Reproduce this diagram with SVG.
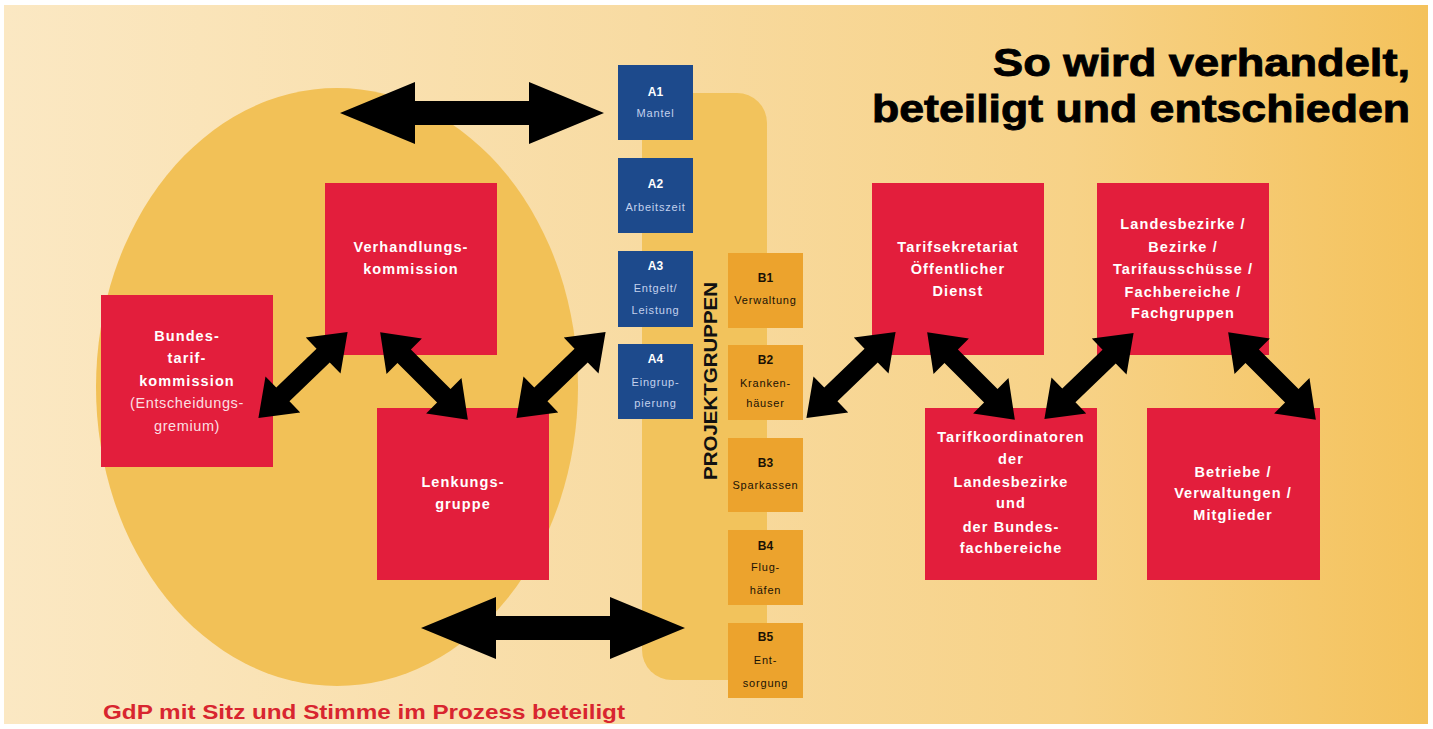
<svg xmlns="http://www.w3.org/2000/svg" width="1433" height="729" viewBox="0 0 1433 729">
<defs>
<linearGradient id="bg" x1="0" y1="0" x2="1" y2="0">
<stop offset="0" stop-color="#fbe8c3"/>
<stop offset="0.45" stop-color="#f8dba2"/>
<stop offset="0.75" stop-color="#f7d287"/>
<stop offset="1" stop-color="#f4c25c"/>
</linearGradient>
<path id="harrow" d="M -132 0 L -57 -31 L -57 -12 L 57 -12 L 57 -31 L 132 0 L 57 31 L 57 12 L -57 12 L -57 31 Z"/>
<path id="darrow" d="M -62 0 L -28 -25 L -28 -9.5 L 28 -9.5 L 28 -25 L 62 0 L 28 25 L 28 9.5 L -28 9.5 L -28 25 Z"/>
<style>
.red{fill:#e31e3c}
.blue{fill:#1d4a8c}
.org{fill:#eca32d}
.rt{font-family:"Liberation Sans",Arial,sans-serif;font-weight:bold;font-size:14.5px;letter-spacing:1.1px;fill:#ffffff;text-anchor:middle}
.rtl{font-family:"Liberation Sans",Arial,sans-serif;font-weight:normal;font-size:14.5px;letter-spacing:0.6px;fill:#fbdfe2;text-anchor:middle}
.al{font-family:"Liberation Sans",Arial,sans-serif;font-weight:bold;font-size:12px;fill:#ffffff;text-anchor:middle}
.at{font-family:"Liberation Sans",Arial,sans-serif;font-size:11px;letter-spacing:0.8px;fill:#c3d1ec;text-anchor:middle}
.bl{font-family:"Liberation Sans",Arial,sans-serif;font-weight:bold;font-size:12px;fill:#1a1205;text-anchor:middle}
.bt{font-family:"Liberation Sans",Arial,sans-serif;font-size:11px;letter-spacing:0.8px;fill:#1a1205;text-anchor:middle}
.title{font-family:"Liberation Sans",Arial,sans-serif;font-weight:bold;font-size:39px;fill:#000000;stroke:#000000;stroke-width:0.9px;text-anchor:end}
</style>
</defs>
<rect x="0" y="0" width="1433" height="729" fill="#ffffff"/>
<rect x="4" y="5" width="1424" height="719" fill="url(#bg)"/>
<ellipse cx="337" cy="387" rx="241" ry="299" fill="#f2c157"/>
<rect x="642" y="93" width="125" height="587" rx="30" fill="#f2c35c"/>

<g id="title">
<text class="title" x="1410" y="76" textLength="417" lengthAdjust="spacingAndGlyphs">So wird verhandelt,</text>
<text class="title" x="1410" y="122" textLength="538" lengthAdjust="spacingAndGlyphs">beteiligt und entschieden</text>
</g>

<g id="projektgruppen-label">
<text x="0" y="0" transform="translate(717,381) rotate(-90)" font-family="Liberation Sans, Arial, sans-serif" font-weight="bold" font-size="19" fill="#111111" text-anchor="middle" textLength="198" lengthAdjust="spacingAndGlyphs">PROJEKTGRUPPEN</text>
</g>

<g id="bundestarifkommission">
<rect class="red" x="101" y="295" width="172" height="172"/>
<text class="rt" x="187" y="341">Bundes-</text>
<text class="rt" x="187" y="363">tarif-</text>
<text class="rt" x="187" y="386">kommission</text>
<text class="rtl" x="187" y="408">(Entscheidungs-</text>
<text class="rtl" x="187" y="431">gremium)</text>
</g>
<g id="verhandlungskommission">
<rect class="red" x="325" y="183" width="172" height="172"/>
<text class="rt" x="411" y="252">Verhandlungs-</text>
<text class="rt" x="411" y="274">kommission</text>
</g>
<g id="lenkungsgruppe">
<rect class="red" x="377" y="408" width="172" height="172"/>
<text class="rt" x="463" y="487">Lenkungs-</text>
<text class="rt" x="463" y="509">gruppe</text>
</g>
<g id="tarifsekretariat">
<rect class="red" x="872" y="183" width="172" height="172"/>
<text class="rt" x="958" y="252">Tarifsekretariat</text>
<text class="rt" x="958" y="274">Öffentlicher</text>
<text class="rt" x="958" y="296">Dienst</text>
</g>
<g id="landesbezirke">
<rect class="red" x="1097" y="183" width="172" height="172"/>
<text class="rt" x="1183" y="229">Landesbezirke /</text>
<text class="rt" x="1183" y="252">Bezirke /</text>
<text class="rt" x="1183" y="274">Tarifausschüsse /</text>
<text class="rt" x="1183" y="297">Fachbereiche /</text>
<text class="rt" x="1183" y="318">Fachgruppen</text>
</g>
<g id="tarifkoordinatoren">
<rect class="red" x="925" y="408" width="172" height="172"/>
<text class="rt" x="1011" y="442">Tarifkoordinatoren</text>
<text class="rt" x="1011" y="464">der</text>
<text class="rt" x="1011" y="487">Landesbezirke</text>
<text class="rt" x="1011" y="508">und</text>
<text class="rt" x="1011" y="532">der Bundes-</text>
<text class="rt" x="1011" y="553">fachbereiche</text>
</g>
<g id="betriebe">
<rect class="red" x="1147" y="408" width="173" height="172"/>
<text class="rt" x="1233" y="477">Betriebe /</text>
<text class="rt" x="1233" y="498">Verwaltungen /</text>
<text class="rt" x="1233" y="520">Mitglieder</text>
</g>

<g id="a1">
<rect class="blue" x="618" y="65" width="75" height="75"/>
<text class="al" x="655.5" y="96">A1</text>
<text class="at" x="655.5" y="117">Mantel</text>
</g>
<g id="a2">
<rect class="blue" x="618" y="158" width="75" height="75"/>
<text class="al" x="655.5" y="188">A2</text>
<text class="at" x="655.5" y="211">Arbeitszeit</text>
</g>
<g id="a3">
<rect class="blue" x="618" y="251" width="75" height="76"/>
<text class="al" x="655.5" y="270">A3</text>
<text class="at" x="655.5" y="292">Entgelt/</text>
<text class="at" x="655.5" y="314">Leistung</text>
</g>
<g id="a4">
<rect class="blue" x="618" y="344" width="75" height="75"/>
<text class="al" x="655.5" y="363">A4</text>
<text class="at" x="655.5" y="386">Eingrup-</text>
<text class="at" x="655.5" y="407">pierung</text>
</g>

<g id="b1">
<rect class="org" x="728" y="253" width="75" height="75"/>
<text class="bl" x="765.5" y="282">B1</text>
<text class="bt" x="765.5" y="304">Verwaltung</text>
</g>
<g id="b2">
<rect class="org" x="728" y="345" width="75" height="75"/>
<text class="bl" x="765.5" y="364">B2</text>
<text class="bt" x="765.5" y="387">Kranken-</text>
<text class="bt" x="765.5" y="407">häuser</text>
</g>
<g id="b3">
<rect class="org" x="728" y="438" width="75" height="74"/>
<text class="bl" x="765.5" y="467">B3</text>
<text class="bt" x="765.5" y="489">Sparkassen</text>
</g>
<g id="b4">
<rect class="org" x="728" y="530" width="75" height="75"/>
<text class="bl" x="765.5" y="550">B4</text>
<text class="bt" x="765.5" y="571">Flug-</text>
<text class="bt" x="765.5" y="594">häfen</text>
</g>
<g id="b5">
<rect class="org" x="728" y="623" width="75" height="75"/>
<text class="bl" x="765.5" y="641">B5</text>
<text class="bt" x="765.5" y="664">Ent-</text>
<text class="bt" x="765.5" y="687">sorgung</text>
</g>

<g id="connectors" fill="#000000">
<use href="#harrow" transform="translate(472,113)"/>
<use href="#harrow" transform="translate(553,628)"/>
<use href="#darrow" transform="translate(303,375) rotate(-44)"/>
<use href="#darrow" transform="translate(424,376) rotate(45)"/>
<use href="#darrow" transform="translate(561,375) rotate(-44)"/>
<use href="#darrow" transform="translate(851,375) rotate(-44)"/>
<use href="#darrow" transform="translate(971,376) rotate(45)"/>
<use href="#darrow" transform="translate(1089,376) rotate(-44)"/>
<use href="#darrow" transform="translate(1272,376) rotate(45)"/>
</g>

<g id="footer">
<text x="103" y="719" font-family="Liberation Sans, Arial, sans-serif" font-weight="bold" font-size="21" fill="#d8252f" textLength="522" lengthAdjust="spacingAndGlyphs">GdP mit Sitz und Stimme im Prozess beteiligt</text>
</g>
</svg>
